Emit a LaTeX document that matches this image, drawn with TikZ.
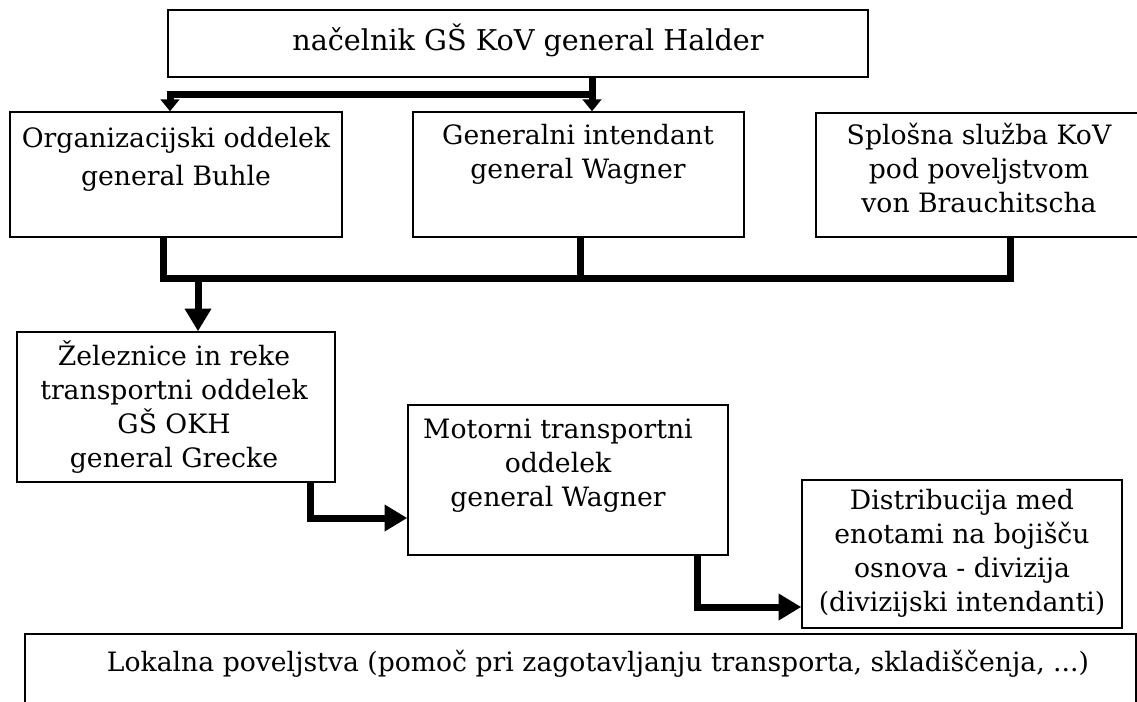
\documentclass[tikz,border=0pt]{standalone}
\usepackage{fontspec}
\setmainfont{DejaVu Serif}
\usetikzlibrary{arrows.meta}
\begin{document}
\begin{tikzpicture}[x=0.75pt,y=-0.75pt,
  box/.style={draw, line width=1.1pt, inner sep=0pt},
  lbl/.style={align=center, inner sep=0pt, font=\fontsize{20}{25.5}\selectfont},
  conn/.style={line width=5.25pt},
  tipS/.style={-{Triangle[length=9pt,width=14pt]}},
  tipL/.style={-{Triangle[length=17pt,width=19pt]}}]
\path[use as bounding box] (0,0) rectangle (1137,702);
\begin{scope}
\clip (0,0) rectangle (1137,702);
% boxes
\node[box, minimum width=525pt, minimum height=50.25pt] (top) at (518,43.5) {};
\node[box, minimum width=249pt, minimum height=93.75pt] (org) at (176,174.5) {};
\node[box, minimum width=248.25pt, minimum height=93.75pt] (gen) at (578.5,174.5) {};
\node[box, minimum width=250.5pt, minimum height=93pt] (spl) at (983,175) {};
\node[box, minimum width=238.5pt, minimum height=112.5pt] (zel) at (176,407) {};
\node[box, minimum width=240pt, minimum height=112.5pt] (mot) at (568,480) {};
\node[box, minimum width=240pt, minimum height=111pt] (dis) at (962,554) {};
\node[box, minimum width=833.25pt, minimum height=64.5pt] (lok) at (580.5,677) {};
% texts
\node[lbl, anchor=base, font=\fontsize{21.5}{25}\selectfont] (ttop) at (528,51) {načelnik GŠ KoV general Halder};
\node[lbl, anchor=north, font=\fontsize{20}{28.5}\selectfont] (torg) at (176,127) {Organizacijski oddelek\\general Buhle};
\node[lbl, anchor=north] (tgen) at (578,124) {Generalni intendant\\general Wagner};
\node[lbl, anchor=north] (tspl) at (979,123) {Splošna služba KoV\\pod poveljstvom\\von Brauchitscha};
\node[lbl, anchor=north] (tzel) at (174,341) {Železnice in reke\\transportni oddelek\\GŠ OKH\\general Grecke};
\node[lbl, anchor=north] (tmot) at (558,419) {Motorni transportni\\oddelek\\general Wagner};
\node[lbl, anchor=north] (tdis) at (962,489) {Distribucija med\\enotami na bojišču\\osnova - divizija\\(divizijski intendanti)};
\node[lbl, anchor=base] (tlok) at (598,671) {Lokalna poveljstva (pomoč pri zagotavljanju transporta, skladiščenja, ...)};
% connectors
\draw[conn, tipS] (592,0 |- top.south) -- (592,0 |- gen.north);
\draw[conn, tipS] (592,95) -- (170,95) -- (170,0 |- org.north);
\draw[conn] (163,0 |- org.south) -- (163,278) -- (1010,278) -- (1010,0 |- spl.south);
\draw[conn] (580,0 |- gen.south) -- (580,278);
\draw[conn, tipL] (198,278) -- (198,0 |- zel.north);
\draw[conn, tipL] (310,0 |- zel.south) -- (310,518) -- (mot.west |- 0,518);
\draw[conn, tipL] (697,0 |- mot.south) -- (697,607) -- (dis.west |- 0,607);
\end{scope}
\end{tikzpicture}
\end{document}
